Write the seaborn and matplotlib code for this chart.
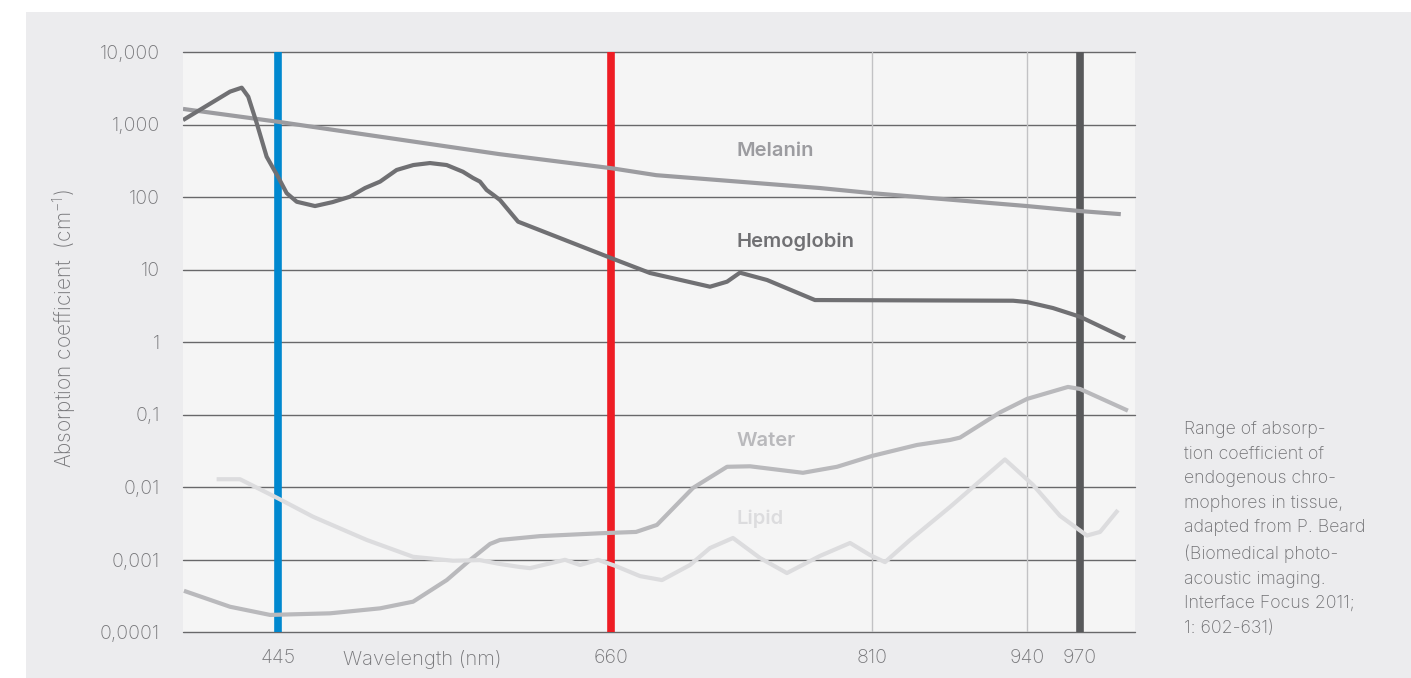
#!/usr/bin/env python3
import numpy as np
import pandas as pd
import seaborn as sns
import matplotlib.pyplot as plt
from matplotlib.patches import Rectangle

# Absorption spectra (wavelength nm, coefficient cm^-1)
melanin_wl = [384, 445, 588, 660, 686, 780, 810, 940, 970, 993]
melanin = [1640, 1090, 390, 250, 200, 133, 113, 75, 64, 58]

hemo_wl = [384, 414.2, 421.7, 425.9, 431.3, 437.7, 445, 450.6, 457.1, 468.9,
           480.2, 491.5, 501.2, 510.9, 521.6, 532.4, 543.1, 553.9, 564.4, 570.9,
           575.4, 579.7, 584, 588.3, 600, 660, 682.4, 716.9, 726.7, 734.1,
           749.7, 777.2, 928.3, 940, 954.7, 970, 995.4]
hemo = [1150, 2840, 3220, 2420, 1050, 360, 190, 113, 86, 75,
        85, 101, 133, 163, 236, 276, 294, 276, 223, 183,
        163, 125, 107, 91, 45.7, 14.4, 8.95, 5.79, 6.79, 9.04,
        7.16, 3.79, 3.71, 3.56, 2.94, 2.23, 1.13]

water_wl = [384.6, 414.2, 439.9, 478.6, 510.9, 532.2, 554, 569, 581.9, 588.3,
            614.1, 652.8, 674.4, 686.4, 707.1, 726.7, 739.9, 770.3, 789.9, 810,
            847.7, 875.4, 883.8, 917.4, 940, 963.2, 970, 997]
water = [0.00037, 0.000223, 0.000172, 0.000181, 0.000212, 0.000262, 0.000521,
         0.000984, 0.00164, 0.00186, 0.0021, 0.0023, 0.0024, 0.003, 0.0097,
         0.019, 0.0193, 0.0157, 0.019, 0.0268, 0.038, 0.0445, 0.048, 0.107,
         0.164, 0.24, 0.225, 0.113]

lipid_wl = [405.6, 420.6, 445, 467.6, 502.3, 532.2, 558, 575.4, 588.3, 601.2,
            607.7, 630.3, 640, 651.6, 662.3, 676.7, 689.3, 705.4, 716.9, 730.1,
            745.6, 761.1, 780.1, 797.4, 808.9, 820.9, 841.9, 875.4, 921.5, 943.4,
            958.7, 973.9, 981.3, 991.4]
lipid = [0.0128, 0.0128, 0.00698, 0.00389, 0.00186, 0.00109, 0.000962, 0.00098,
         0.000867, 0.000788, 0.00076, 0.00099, 0.00084, 0.00099, 0.00082,
         0.00059, 0.00052, 0.00084, 0.00144, 0.00198, 0.00105, 0.00065,
         0.00112, 0.00169, 0.00115, 0.00092, 0.00186, 0.0053, 0.024, 0.0107,
         0.004, 0.00214, 0.0024, 0.0048]

laser_wl = [445, 660, 970]
x_ticks = [445, 660, 810, 940, 970]
y_ticks = [1e-4, 1e-3, 1e-2, 1e-1, 1, 10, 100, 1000, 10000]
y_labels = ["0,0001", "0,001", "0,01", "0,1", "1", "10", "100", "1,000", "10,000"]

series_names = ["Melanin", "Hemoglobin", "Water", "Lipid"]
note = ("Range of absorp-\ntion coefficient of\nendogenous chro-\n"
        "mophores in tissue,\nadapted from P. Beard\n(Biomedical photo-\n"
        "acoustic imaging.\nInterface Focus 2011;\n1: 602-631)")

# the wavelength axis in the original is not linear: map it piecewise
axis_wl = [384, 445, 660, 810, 940, 970, 1001]
axis_pos = [183, 278, 611, 872, 1027, 1080, 1135]


def fwd(x):
    return np.interp(x, axis_wl, axis_pos)


def inv(p):
    return np.interp(p, axis_pos, axis_wl)


sns.set_theme(style="white")
plt.rcParams["font.family"] = ["Inter", "DejaVu Sans"]
plt.rcParams["font.weight"] = "light"
plt.rcParams["mathtext.default"] = "regular"

TXT = "#77777a"
W, H = 1411, 678
fig = plt.figure(figsize=(W / 100, H / 100), dpi=100, facecolor="white")
fig.patches.append(Rectangle((26 / W, 0), 1, 1 - 12 / H, transform=fig.transFigure,
                             facecolor="#ececee", edgecolor="none", zorder=-10))
ax = fig.add_axes([183 / W, 1 - 632 / H, 952 / W, 580 / H])
ax.set_facecolor("#f5f5f5")

data = pd.concat([
    pd.DataFrame({"wl": melanin_wl, "val": melanin, "name": "Melanin"}),
    pd.DataFrame({"wl": hemo_wl, "val": hemo, "name": "Hemoglobin"}),
    pd.DataFrame({"wl": water_wl, "val": water, "name": "Water"}),
    pd.DataFrame({"wl": lipid_wl, "val": lipid, "name": "Lipid"}),
])
colors = {"Melanin": "#9c9ca0", "Hemoglobin": "#707073",
          "Water": "#b9b9bc", "Lipid": "#dcdcde"}

sns.lineplot(data=data, x="wl", y="val", hue="name", palette=colors,
             estimator=None, sort=False, legend=False, linewidth=3.0, ax=ax,
             zorder=3, solid_capstyle="butt", solid_joinstyle="round")

ax.set_yscale("log")
ax.set_xscale("function", functions=(fwd, inv))
ax.set_xlim(384, 1001)
ax.set_ylim(1e-4, 1e4)

for y in y_ticks:
    ax.axhline(y, color="#68686a", lw=1.0, zorder=1, clip_on=False)
for x in [810, 940]:
    ax.axvline(x, color="#c2c2c4", lw=1.0, zorder=1)
for x, c in zip(laser_wl, ["#0088cf", "#ee1d24", "#58595b"]):
    ax.axvline(x, color=c, lw=5.5, zorder=2, solid_capstyle="butt")

for s in ax.spines.values():
    s.set_visible(False)
ax.grid(False)
ax.set_yticks(y_ticks)
ax.set_yticklabels(y_labels)
ax.yaxis.set_minor_locator(plt.NullLocator())
ax.set_xticks(x_ticks)
ax.set_xticklabels([str(t) for t in x_ticks])
ax.tick_params(axis="y", length=0, pad=16.5, labelsize=14, labelcolor=TXT)
ax.tick_params(axis="x", length=0, pad=12.5, labelsize=14, labelcolor=TXT)
ax.set_xlabel("")
ax.set_ylabel("")

ax.text(538, -0.031, "Wavelength (nm)", transform=ax.get_xaxis_transform(),
        ha="center", va="top", fontsize=14.5, color=TXT)

label_y = [435, 24.2, 0.0435, 0.00362]
for name, y in zip(series_names, label_y):
    ax.text(732, y, name, ha="left", va="center", fontsize=14.5,
            fontweight="semibold", color=colors[name], zorder=4)

fig.text(64.5 / W, 1 - 329 / H, "Absorption coefficient  (cm$^{-1}$)",
         rotation=90, ha="center", va="center", fontsize=15, color=TXT)
fig.text(1184 / W, 1 - 421 / H, note, ha="left", va="top", fontsize=12.8,
         linespacing=1.58, color="#707073")

fig.savefig("out.png", dpi=100, facecolor=fig.get_facecolor())
